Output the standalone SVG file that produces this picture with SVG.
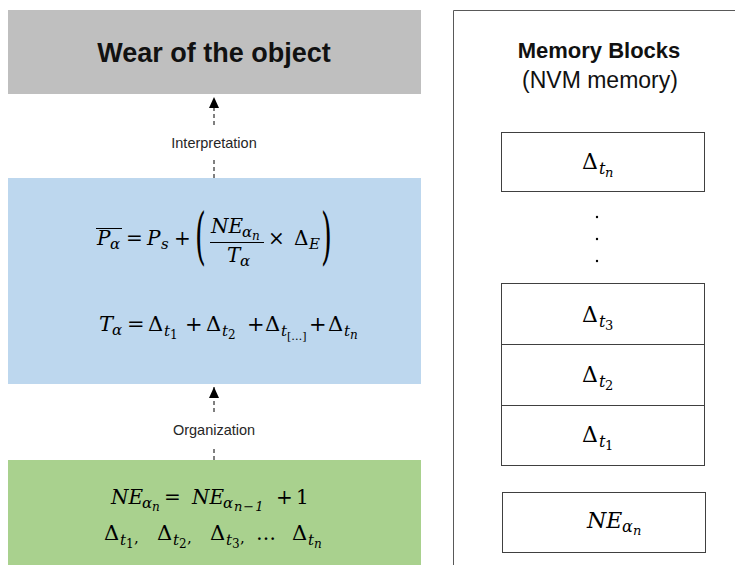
<svg xmlns="http://www.w3.org/2000/svg" width="735" height="565" viewBox="0 0 735 565">
<style>
.m{font-family:"DejaVu Serif","Liberation Serif",serif;font-style:italic;fill:#000}
.u{font-style:normal}
.lbl{font-family:"Liberation Sans",Arial,sans-serif;font-size:14.5px;fill:#262626}
.blk{fill:#fff;stroke:#404040;stroke-width:1}
.dash{stroke:#000;stroke-width:1;stroke-dasharray:4 3;fill:none}
</style>
<defs>
<marker id="ah" markerWidth="11" markerHeight="10" refX="11" refY="5" orient="auto" markerUnits="userSpaceOnUse" viewBox="0 0 11 10"><path d="M0,0 L11,5 L0,10 Z" fill="#000"/></marker>
</defs>
<rect width="735" height="565" fill="#fff"/>

<g id="node-wear">
<rect x="8" y="10" width="413" height="84" fill="#bfbfbf"/>
<text x="214" y="62" text-anchor="middle" font-family="Liberation Sans,Arial,sans-serif" font-weight="bold" font-size="27" fill="#111">Wear of the object</text>
</g>

<g id="node-formulas">
<rect x="8" y="178" width="413" height="206" fill="#bdd7ee"/>
<line x1="96" y1="228.5" x2="122" y2="228.5" stroke="#000" stroke-width="1"/>
<text class="m" font-size="20"><tspan x="97" y="245">P</tspan><tspan font-size="15" x="110" y="249">α</tspan><tspan class="u" x="126" y="245">=</tspan><tspan x="147" y="245">P</tspan><tspan font-size="15" x="161" y="249">s</tspan><tspan class="u" x="174" y="245">+</tspan></text>
<text class="m u" font-size="62" transform="translate(195,257) scale(0.45,1)">(</text>
<text class="m" font-size="20"><tspan x="211" y="233">NE</tspan><tspan font-size="15" x="242" y="237">α</tspan><tspan font-size="12" x="252" y="240">n</tspan></text>
<line x1="210" y1="242.5" x2="264" y2="242.5" stroke="#000" stroke-width="1"/>
<text class="m" font-size="20"><tspan x="227" y="262">T</tspan><tspan font-size="15" x="240" y="266">α</tspan></text>
<text class="m" font-size="20"><tspan class="u" x="268" y="245">×</tspan><tspan class="u" x="294" y="245">Δ</tspan><tspan font-size="15" x="309" y="249">E</tspan></text>
<text class="m u" font-size="62" transform="translate(321,257) scale(0.45,1)">)</text>
<text class="m" font-size="21"><tspan x="99" y="331">T</tspan><tspan font-size="15" x="112" y="335">α</tspan><tspan class="u" x="127" y="331">=</tspan><tspan class="u" x="148" y="331">Δ</tspan><tspan font-size="15" x="164" y="336">t</tspan><tspan class="u" font-size="12" x="170" y="339">1</tspan><tspan class="u" x="185" y="331">+</tspan><tspan class="u" x="206" y="331">Δ</tspan><tspan font-size="15" x="222" y="336">t</tspan><tspan class="u" font-size="12" x="228" y="339">2</tspan><tspan class="u" x="247" y="331">+</tspan><tspan class="u" x="265" y="331">Δ</tspan><tspan font-size="15" x="281" y="336">t</tspan><tspan class="u" font-size="11" x="287" y="340">[…]</tspan><tspan class="u" x="309" y="331">+</tspan><tspan class="u" x="328" y="331">Δ</tspan><tspan font-size="15" x="344" y="336">t</tspan><tspan font-size="12" x="350" y="339">n</tspan></text>
</g>

<g id="node-data">
<rect x="8" y="460" width="413" height="105" fill="#a9d18e"/>
<text class="m" font-size="20"><tspan x="111" y="504">NE</tspan><tspan font-size="15" x="142" y="508">α</tspan><tspan font-size="12" x="152" y="511">n</tspan><tspan class="u" x="164" y="504">=</tspan><tspan x="192" y="504">NE</tspan><tspan font-size="15" x="223" y="508">α</tspan><tspan font-size="13" x="234" y="511" letter-spacing="1">n−1</tspan><tspan class="u" x="276" y="504">+</tspan><tspan class="u" x="296" y="504">1</tspan></text>
<text class="m" font-size="21"><tspan class="u" x="104" y="540">Δ</tspan><tspan font-size="15" x="120" y="545">t</tspan><tspan class="u" font-size="12" x="126" y="548">1</tspan><tspan class="u" font-size="15" x="134" y="543">,</tspan><tspan class="u" x="157" y="540">Δ</tspan><tspan font-size="15" x="173" y="545">t</tspan><tspan class="u" font-size="12" x="179" y="548">2</tspan><tspan class="u" font-size="15" x="187" y="543">,</tspan><tspan class="u" x="210" y="540">Δ</tspan><tspan font-size="15" x="226" y="545">t</tspan><tspan class="u" font-size="12" x="232" y="548">3</tspan><tspan class="u" font-size="15" x="240" y="543">,</tspan><tspan class="u" font-size="20" x="256" y="540">…</tspan><tspan class="u" x="292" y="540">Δ</tspan><tspan font-size="15" x="308" y="545">t</tspan><tspan font-size="12" x="314" y="548">n</tspan></text>
</g>

<g id="node-memory">
<path d="M453.5,565 V10.5 H735" fill="none" stroke="#595959" stroke-width="1"/>
<text x="599" y="58" text-anchor="middle" font-family="Liberation Sans,Arial,sans-serif" font-weight="bold" font-size="22" fill="#111">Memory Blocks</text>
<text x="600" y="88" text-anchor="middle" font-family="Liberation Sans,Arial,sans-serif" font-size="23" fill="#111">(NVM memory)</text>
</g>

<g id="block-tn">
<rect class="blk" x="501.5" y="132.5" width="203" height="59"/>
<text class="m" font-size="22"><tspan class="u" x="582" y="169">Δ</tspan><tspan font-size="16" x="599" y="174">t</tspan><tspan font-size="13" x="605" y="177">n</tspan></text>
</g>
<g id="block-dots">
<circle cx="597" cy="217" r="1.2" fill="#000"/>
<circle cx="597" cy="239" r="1.2" fill="#000"/>
<circle cx="597" cy="261" r="1.2" fill="#000"/>
</g>
<g id="block-t3">
<rect class="blk" x="501.5" y="283.5" width="203" height="61"/>
<text class="m" font-size="22"><tspan class="u" x="582" y="322">Δ</tspan><tspan font-size="16" x="599" y="327">t</tspan><tspan class="u" font-size="13" x="605" y="330">3</tspan></text>
</g>
<g id="block-t2">
<rect class="blk" x="501.5" y="344.5" width="203" height="61"/>
<text class="m" font-size="22"><tspan class="u" x="582" y="382">Δ</tspan><tspan font-size="16" x="599" y="387">t</tspan><tspan class="u" font-size="13" x="605" y="390">2</tspan></text>
</g>
<g id="block-t1">
<rect class="blk" x="501.5" y="405.5" width="203" height="60"/>
<text class="m" font-size="22"><tspan class="u" x="582" y="442">Δ</tspan><tspan font-size="16" x="599" y="447">t</tspan><tspan class="u" font-size="13" x="605" y="450">1</tspan></text>
</g>
<g id="block-ne">
<rect class="blk" x="502.5" y="492.5" width="203" height="60"/>
<text class="m" font-size="22"><tspan x="587" y="528">NE</tspan><tspan font-size="16" x="622" y="532">α</tspan><tspan font-size="13" x="633" y="535">n</tspan></text>
</g>

<g id="connectors">
<line class="dash" x1="214" y1="178" x2="214" y2="157"/>
<line class="dash" x1="214" y1="125" x2="214" y2="97" marker-end="url(#ah)"/>
<text class="lbl" x="214" y="148" text-anchor="middle">Interpretation</text>
<line class="dash" x1="214" y1="460" x2="214" y2="446"/>
<line class="dash" x1="214" y1="412" x2="214" y2="387" marker-end="url(#ah)"/>
<text class="lbl" x="214" y="435" text-anchor="middle">Organization</text>
</g>
</svg>
